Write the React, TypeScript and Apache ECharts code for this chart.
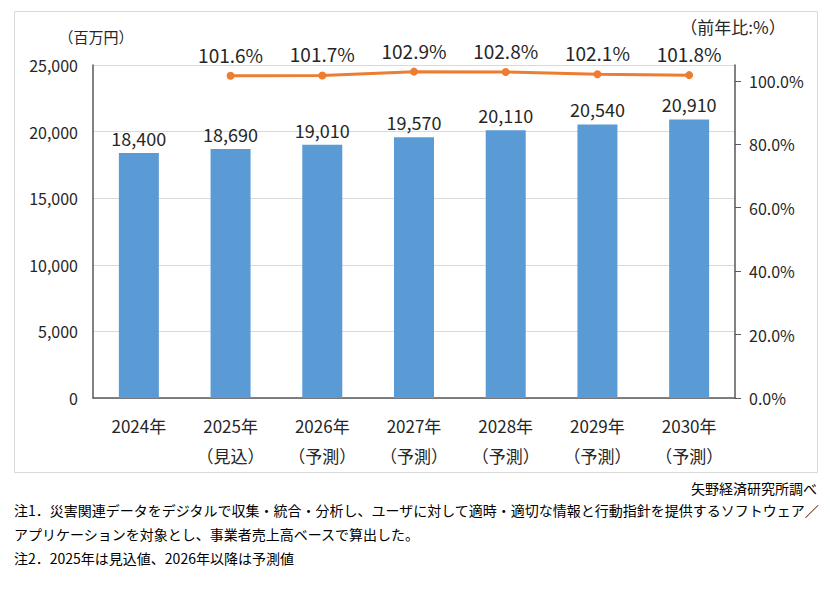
import React, { useEffect, useRef } from "react";
import * as echarts from "echarts";

const categories = [
  "2024年",
  "2025年\n（見込）",
  "2026年\n（予測）",
  "2027年\n（予測）",
  "2028年\n（予測）",
  "2029年\n（予測）",
  "2030年\n（予測）",
];
const marketValues = [18400, 18690, 19010, 19570, 20110, 20540, 20910];
const yoyValues: (number | null)[] = [null, 101.6, 101.7, 102.9, 102.8, 102.1, 101.8];
const rightTicks = [0, 20, 40, 60, 80, 100];
const unitLeft = "（百万円）";
const unitRight = "（前年比:%）";
const sourceText = "矢野経済研究所調べ";
const notes = [
  "注1．災害関連データをデジタルで収集・統合・分析し、ユーザに対して適時・適切な情報と行動指針を提供するソフトウェア／",
  "アプリケーションを対象とし、事業者売上高ベースで算出した。",
  "注2．2025年は見込値、2026年以降は予測値",
];

const FONT = "'Noto Sans CJK JP', 'Noto Sans', sans-serif";
const TXT = "#262626";

export default function App() {
  const ref = useRef<HTMLDivElement>(null);
  useEffect(() => {
    if (!ref.current) return;
    const chart = echarts.init(ref.current, undefined, { renderer: "svg" });
    chart.setOption({
      animation: false,
      backgroundColor: "#ffffff",
      textStyle: { fontFamily: FONT },
      grid: { left: 93, right: 95, top: 65, bottom: 196 },
      xAxis: {
        type: "category",
        data: categories,
        axisLine: { show: true, lineStyle: { color: "#595959", width: 1.5 } },
        axisTick: { show: false },
        axisLabel: {
          color: TXT,
          fontSize: 17,
          lineHeight: 30,
          margin: 12,
          fontFamily: FONT,
          interval: 0,
        },
      },
      yAxis: [
        {
          type: "value",
          min: 0,
          max: 25000,
          interval: 5000,
          axisLine: { show: true, lineStyle: { color: "#595959", width: 1.5 } },
          axisTick: { show: false },
          splitLine: { show: true, lineStyle: { color: "#d9d9d9", width: 1 } },
          axisLabel: {
            color: TXT,
            fontSize: 16,
            margin: 15,
            fontFamily: FONT,
            formatter: (v: number) => v.toLocaleString("en-US"),
          },
        },
        {
          type: "value",
          min: 0,
          max: 105,
          interval: 20,
          position: "right",
          axisLine: { show: true, lineStyle: { color: "#595959", width: 1.5 } },
          axisTick: {
            show: true,
            length: 6,
            customValues: rightTicks,
            lineStyle: { color: "#595959" },
          },
          splitLine: { show: false },
          axisLabel: {
            color: TXT,
            fontSize: 16,
            margin: 14,
            fontFamily: FONT,
            customValues: rightTicks,
            formatter: (v: number) => v.toFixed(1) + "%",
          },
        },
      ],
      series: [
        {
          type: "bar",
          data: marketValues,
          barWidth: 40,
          itemStyle: { color: "#5B9BD5" },
          label: {
            show: true,
            position: "top",
            distance: 6,
            color: TXT,
            fontSize: 18,
            fontFamily: FONT,
            formatter: (p: any) => Number(p.value).toLocaleString("en-US"),
          },
        },
        {
          type: "line",
          yAxisIndex: 1,
          data: yoyValues,
          symbol: "circle",
          symbolSize: 8,
          lineStyle: { color: "#ED7D31", width: 3 },
          itemStyle: { color: "#ED7D31" },
          label: {
            show: true,
            position: "top",
            distance: 8,
            color: TXT,
            fontSize: 19,
            fontFamily: FONT,
            formatter: (p: any) => Number(p.value).toFixed(1) + "%",
          },
        },
      ],
      graphic: [
        {
          type: "rect",
          shape: { x: 14.5, y: 11.5, width: 803, height: 461 },
          style: { fill: "none", stroke: "#d9d9d9", lineWidth: 1 },
          z: -10,
        },
        {
          type: "text",
          x: 96,
          y: 36,
          style: {
            text: unitLeft,
            fill: TXT,
            font: `15px ${FONT}`,
            textAlign: "center",
            textVerticalAlign: "middle",
          },
        },
        {
          type: "text",
          x: 733,
          y: 26,
          style: {
            text: unitRight,
            fill: TXT,
            font: `17px ${FONT}`,
            textAlign: "center",
            textVerticalAlign: "middle",
          },
        },
        {
          type: "text",
          x: 817,
          y: 488,
          style: {
            text: sourceText,
            fill: "#000",
            font: `14px ${FONT}`,
            textAlign: "right",
            textVerticalAlign: "middle",
          },
        },
        ...notes.map((t, i) => ({
          type: "text",
          x: 14,
          y: 510 + i * 24,
          style: {
            text: t,
            fill: "#000",
            font: `14px ${FONT}`,
            textAlign: "left",
            textVerticalAlign: "middle",
          },
        })),
      ],
    });
    return () => chart.dispose();
  }, []);
  return (
    <div
      ref={ref}
      style={{ position: "absolute", left: 0, top: 0, width: 830, height: 594 }}
    />
  );
}
